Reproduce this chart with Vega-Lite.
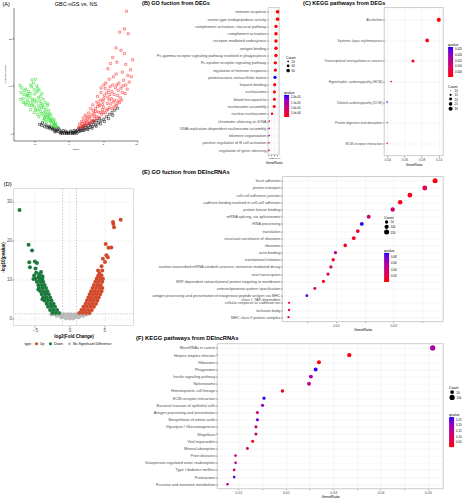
{
"$schema":"https://vega.github.io/schema/vega-lite/v6.json",
"background":"white",
"padding":{"left":0.5,"top":0.5,"right":0,"bottom":0},
"spacing":-3.4,
"resolve":{"scale":{"color":"independent","size":"independent"},"legend":{"color":"independent","size":"independent"}},
"config":{
 "font":"Liberation Sans",
 "view":{"stroke":null},
 "title":{"color":"black","fontWeight":"bold"},
 "axis":{"labelColor":"#4d4d4d","tickColor":"#333333","tickSize":1.5,"tickWidth":0.5,"domain":false,"gridColor":"#ebebeb","gridWidth":0.5,"labelFontSize":3.8,"titleFontSize":4,"titleFontWeight":"normal","titleColor":"black","labelPadding":0.8,"titlePadding":1,"labelOverlap":false},
 "legend":{"titleFontSize":3.5,"labelFontSize":2.8,"titleFontWeight":"normal","titlePadding":1,"rowPadding":0.3,"labelOffset":1.5,"titleColor":"black","labelColor":"black","gradientStrokeWidth":0,"padding":0}
},
"hconcat":[
{"bounds":"flush","spacing":48,
 "resolve":{"scale":{"color":"independent","size":"independent"},"legend":{"color":"independent","size":"independent"}},
 "vconcat":[
 {
  "title":{"text":"(A)","anchor":"start","frame":"group","dx":-11,"fontSize":5.5,"fontWeight":"normal","offset":-6},
  "width":124,"height":133,
  "resolve":{"axis":{"x":"independent"}},
  "data":{"values":[
{"x":-1.2,"y":0.05,"g":"n"},{"x":-0.9,"y":0,"g":"n"},{"x":-0.6,"y":0.02,"g":"n"},{"x":-0.3,"y":0,"g":"n"},{"x":0,"y":0,"g":"n"},{"x":0.3,"y":0.02,"g":"n"},{"x":0.6,"y":0,"g":"n"},{"x":0.9,"y":0.03,"g":"n"},{"x":1.2,"y":0.05,"g":"n"},
{"x":-1.0,"y":0.3,"g":"n"},{"x":-0.5,"y":0.25,"g":"n"},{"x":0,"y":0.2,"g":"n"},{"x":0.5,"y":0.25,"g":"n"},{"x":1.0,"y":0.3,"g":"n"},
{"x":-1.5,"y":0.4,"g":"n"},{"x":-1.9,"y":0.6,"g":"n"},{"x":-2.3,"y":0.8,"g":"n"},{"x":-2.7,"y":1.0,"g":"n"},{"x":-3.1,"y":1.2,"g":"n"},{"x":-3.5,"y":1.4,"g":"n"},{"x":-3.9,"y":1.7,"g":"n"},{"x":-4.2,"y":1.9,"g":"n"},
{"x":-1.3,"y":0.7,"g":"n"},{"x":-1.7,"y":0.9,"g":"n"},{"x":-2.1,"y":1.1,"g":"n"},{"x":-2.5,"y":1.3,"g":"n"},{"x":-2.9,"y":1.5,"g":"n"},{"x":-1.5,"y":1.1,"g":"n"},{"x":-0.8,"y":0.6,"g":"n"},
{"x":1.5,"y":0.4,"g":"n"},{"x":1.9,"y":0.6,"g":"n"},{"x":2.3,"y":0.8,"g":"n"},{"x":2.7,"y":1.0,"g":"n"},{"x":3.1,"y":1.25,"g":"n"},{"x":3.5,"y":1.5,"g":"n"},{"x":3.9,"y":1.8,"g":"n"},{"x":4.3,"y":2.2,"g":"n"},{"x":4.7,"y":2.6,"g":"n"},{"x":5.1,"y":3.0,"g":"n"},{"x":5.5,"y":3.5,"g":"n"},{"x":5.9,"y":4.0,"g":"n"},{"x":6.3,"y":4.4,"g":"n"},{"x":6.7,"y":4.9,"g":"n"},{"x":7.1,"y":5.3,"g":"n"},
{"x":1.3,"y":0.7,"g":"n"},{"x":1.7,"y":0.9,"g":"n"},{"x":2.1,"y":1.1,"g":"n"},{"x":2.5,"y":1.3,"g":"n"},{"x":2.9,"y":1.6,"g":"n"},{"x":3.3,"y":1.9,"g":"n"},{"x":3.7,"y":2.3,"g":"n"},{"x":4.1,"y":2.7,"g":"n"},{"x":4.5,"y":3.1,"g":"n"},{"x":0.8,"y":0.6,"g":"n"},{"x":1.5,"y":1.1,"g":"n"},{"x":2.0,"y":1.4,"g":"n"},
{"x":-3.8,"y":2.2,"g":"n"},{"x":-3.3,"y":1.8,"g":"n"},{"x":-2.8,"y":1.3,"g":"n"},{"x":-2.3,"y":1.0,"g":"n"},{"x":-1.8,"y":0.5,"g":"n"},{"x":-1.1,"y":0.15,"g":"n"},{"x":-0.2,"y":0.1,"g":"n"},{"x":0.7,"y":0.15,"g":"n"},{"x":1.7,"y":0.5,"g":"n"},{"x":2.2,"y":0.6,"g":"n"},{"x":2.8,"y":0.8,"g":"n"},{"x":3.4,"y":1.1,"g":"n"},{"x":4.0,"y":1.5,"g":"n"},{"x":4.6,"y":2.0,"g":"n"},{"x":5.2,"y":2.5,"g":"n"},{"x":5.8,"y":3.1,"g":"n"},{"x":6.4,"y":3.8,"g":"n"},{"x":1.1,"y":0.5,"g":"n"},{"x":-2.0,"y":0.3,"g":"n"},{"x":2.4,"y":1.7,"g":"n"},{"x":3.0,"y":2.0,"g":"n"},{"x":3.6,"y":2.6,"g":"n"},{"x":-0.4,"y":0.45,"g":"n"},{"x":0.3,"y":0.5,"g":"n"},
{"x":8.4,"y":25.7,"g":"u"},{"x":7.4,"y":21.3,"g":"u"},{"x":8.1,"y":22.0,"g":"u"},{"x":8.65,"y":21.0,"g":"u"},{"x":6.9,"y":18.0,"g":"u"},{"x":7.6,"y":17.5,"g":"u"},{"x":8.1,"y":16.8,"g":"u"},{"x":9.0,"y":13.4,"g":"u"},{"x":5.7,"y":13.6,"g":"u"},{"x":6.1,"y":14.7,"g":"u"},{"x":7.8,"y":12.9,"g":"u"},{"x":7.0,"y":15.0,"g":"u"},{"x":6.4,"y":16.0,"g":"u"},{"x":8.3,"y":14.5,"g":"u"},{"x":9.3,"y":15.5,"g":"u"},
{"x":1.5,"y":1.3,"g":"u"},{"x":1.6,"y":2.0,"g":"u"},{"x":1.8,"y":1.6,"g":"u"},{"x":1.9,"y":2.5,"g":"u"},{"x":2.2,"y":1.6,"g":"u"},{"x":2.3,"y":2.4,"g":"u"},{"x":2.1,"y":3.2,"g":"u"},{"x":2.4,"y":3.8,"g":"u"},{"x":2.6,"y":2.0,"g":"u"},{"x":2.7,"y":3.0,"g":"u"},{"x":3.0,"y":2.1,"g":"u"},{"x":3.1,"y":3.2,"g":"u"},{"x":2.9,"y":4.3,"g":"u"},{"x":3.2,"y":5.2,"g":"u"},{"x":3.3,"y":2.6,"g":"u"},{"x":3.4,"y":3.9,"g":"u"},{"x":3.5,"y":6.0,"g":"u"},{"x":3.6,"y":4.8,"g":"u"},{"x":3.8,"y":2.8,"g":"u"},{"x":4.0,"y":3.6,"g":"u"},{"x":3.9,"y":5.2,"g":"u"},{"x":4.1,"y":6.6,"g":"u"},{"x":4.2,"y":7.8,"g":"u"},{"x":4.3,"y":4.5,"g":"u"},{"x":4.4,"y":3.4,"g":"u"},{"x":4.5,"y":5.8,"g":"u"},{"x":4.6,"y":7.0,"g":"u"},{"x":4.7,"y":8.6,"g":"u"},{"x":4.8,"y":4.0,"g":"u"},{"x":5.0,"y":4.4,"g":"u"},{"x":5.1,"y":5.5,"g":"u"},{"x":5.0,"y":6.8,"g":"u"},{"x":5.2,"y":8.0,"g":"u"},{"x":5.3,"y":9.5,"g":"u"},{"x":5.4,"y":10.6,"g":"u"},{"x":5.5,"y":4.9,"g":"u"},{"x":5.6,"y":6.3,"g":"u"},{"x":5.7,"y":7.6,"g":"u"},{"x":5.8,"y":9.0,"g":"u"},{"x":5.9,"y":11.4,"g":"u"},{"x":5.9,"y":5.4,"g":"u"},{"x":6.1,"y":6.2,"g":"u"},{"x":6.2,"y":7.3,"g":"u"},{"x":6.3,"y":8.8,"g":"u"},{"x":6.4,"y":10.2,"g":"u"},{"x":6.5,"y":11.9,"g":"u"},{"x":6.6,"y":5.6,"g":"u"},{"x":6.7,"y":7.0,"g":"u"},{"x":6.8,"y":9.6,"g":"u"},{"x":6.9,"y":12.5,"g":"u"},{"x":7.0,"y":6.2,"g":"u"},{"x":7.1,"y":8.0,"g":"u"},{"x":7.3,"y":10.6,"g":"u"},{"x":7.5,"y":7.5,"g":"u"},{"x":7.6,"y":9.5,"g":"u"},{"x":7.8,"y":8.6,"g":"u"},{"x":8.0,"y":11.2,"g":"u"},{"x":8.3,"y":10.2,"g":"u"},{"x":8.6,"y":12.2,"g":"u"},{"x":2.0,"y":2.1,"g":"u"},{"x":2.5,"y":2.7,"g":"u"},{"x":3.7,"y":3.5,"g":"u"},{"x":4.9,"y":5.0,"g":"u"},{"x":6.0,"y":8.2,"g":"u"},{"x":7.2,"y":6.8,"g":"u"},
{"x":1.7,"y":1.2,"g":"u"},{"x":2.1,"y":1.4,"g":"u"},{"x":2.4,"y":1.9,"g":"u"},{"x":2.8,"y":2.4,"g":"u"},{"x":3.2,"y":2.3,"g":"u"},{"x":3.5,"y":2.6,"g":"u"},{"x":3.7,"y":4.2,"g":"u"},{"x":4.1,"y":3.1,"g":"u"},{"x":4.2,"y":5.7,"g":"u"},{"x":4.6,"y":4.4,"g":"u"},{"x":4.4,"y":6.2,"g":"u"},{"x":4.9,"y":6.1,"g":"u"},{"x":5.1,"y":7.3,"g":"u"},{"x":5.3,"y":4.3,"g":"u"},{"x":5.5,"y":8.5,"g":"u"},{"x":5.7,"y":5.0,"g":"u"},{"x":5.9,"y":7.0,"g":"u"},{"x":6.0,"y":9.8,"g":"u"},{"x":6.3,"y":5.2,"g":"u"},{"x":6.5,"y":6.6,"g":"u"},{"x":6.6,"y":8.2,"g":"u"},{"x":6.9,"y":5.8,"g":"u"},{"x":7.0,"y":10.2,"g":"u"},{"x":7.2,"y":9.0,"g":"u"},{"x":7.4,"y":6.5,"g":"u"},{"x":7.7,"y":7.0,"g":"u"},{"x":7.9,"y":10.0,"g":"u"},{"x":8.2,"y":8.4,"g":"u"},{"x":8.5,"y":9.3,"g":"u"},{"x":8.8,"y":10.8,"g":"u"},{"x":9.1,"y":11.9,"g":"u"},{"x":3.9,"y":4.6,"g":"u"},{"x":3.0,"y":3.6,"g":"u"},{"x":2.6,"y":3.5,"g":"u"},{"x":4.7,"y":9.6,"g":"u"},{"x":5.1,"y":10.2,"g":"u"},
{"x":-7.05,"y":10.1,"g":"d"},{"x":-5.3,"y":11.3,"g":"d"},{"x":-4.8,"y":11.4,"g":"d"},{"x":-5.1,"y":10.6,"g":"d"},{"x":-6.8,"y":9.6,"g":"d"},{"x":-6.2,"y":9.3,"g":"d"},{"x":-5.8,"y":8.8,"g":"d"},{"x":-6.5,"y":8.2,"g":"d"},{"x":-5.4,"y":9.8,"g":"d"},{"x":-4.6,"y":10.0,"g":"d"},{"x":-4.3,"y":9.1,"g":"d"},{"x":-3.9,"y":8.4,"g":"d"},{"x":-4.9,"y":8.3,"g":"d"},{"x":-5.6,"y":7.6,"g":"d"},{"x":-6.0,"y":7.0,"g":"d"},{"x":-4.4,"y":7.5,"g":"d"},{"x":-3.7,"y":7.2,"g":"d"},{"x":-3.4,"y":6.5,"g":"d"},{"x":-4.0,"y":6.3,"g":"d"},{"x":-4.7,"y":6.6,"g":"d"},{"x":-5.2,"y":6.2,"g":"d"},{"x":-5.7,"y":5.9,"g":"d"},{"x":-3.1,"y":5.8,"g":"d"},{"x":-3.6,"y":5.4,"g":"d"},{"x":-4.2,"y":5.2,"g":"d"},{"x":-4.8,"y":5.0,"g":"d"},{"x":-2.9,"y":4.8,"g":"d"},{"x":-3.3,"y":4.3,"g":"d"},{"x":-3.9,"y":4.1,"g":"d"},{"x":-4.5,"y":4.0,"g":"d"},{"x":-2.6,"y":3.9,"g":"d"},{"x":-3.0,"y":3.5,"g":"d"},{"x":-3.5,"y":3.2,"g":"d"},{"x":-2.4,"y":3.1,"g":"d"},{"x":-2.7,"y":2.7,"g":"d"},{"x":-3.2,"y":2.4,"g":"d"},{"x":-2.2,"y":2.4,"g":"d"},{"x":-2.5,"y":2.0,"g":"d"},{"x":-2.0,"y":1.8,"g":"d"},{"x":-2.3,"y":1.5,"g":"d"},{"x":-1.8,"y":1.4,"g":"d"},{"x":-1.6,"y":1.3,"g":"d"},{"x":-3.7,"y":2.7,"g":"d"},{"x":-4.3,"y":3.5,"g":"d"},{"x":-5.0,"y":4.4,"g":"d"},{"x":-5.5,"y":5.0,"g":"d"},{"x":-6.3,"y":6.4,"g":"d"},{"x":-3.3,"y":5.0,"g":"d"},{"x":-2.8,"y":4.2,"g":"d"},{"x":-4.1,"y":7.8,"g":"d"},{"x":-5.2,"y":7.2,"g":"d"},{"x":-5.9,"y":8.0,"g":"d"},{"x":-6.6,"y":7.3,"g":"d"},{"x":-6.9,"y":8.6,"g":"d"},{"x":-2.1,"y":2.9,"g":"d"},{"x":-1.9,"y":2.2,"g":"d"},{"x":-3.0,"y":6.2,"g":"d"},{"x":-4.6,"y":8.8,"g":"d"},{"x":-5.5,"y":10.2,"g":"d"},
{"x":-6.0,"y":8.3,"g":"d"},{"x":-5.5,"y":8.4,"g":"d"},{"x":-5.0,"y":9.2,"g":"d"},{"x":-4.5,"y":9.5,"g":"d"},{"x":-6.4,"y":9.0,"g":"d"},{"x":-6.1,"y":7.8,"g":"d"},{"x":-5.3,"y":6.8,"g":"d"},{"x":-4.9,"y":7.0,"g":"d"},{"x":-4.2,"y":6.8,"g":"d"},{"x":-3.8,"y":6.0,"g":"d"},{"x":-4.4,"y":5.8,"g":"d"},{"x":-5.0,"y":5.6,"g":"d"},{"x":-5.4,"y":5.9,"g":"d"},{"x":-4.6,"y":4.9,"g":"d"},{"x":-4.1,"y":4.6,"g":"d"},{"x":-3.6,"y":4.5,"g":"d"},{"x":-3.1,"y":4.0,"g":"d"},{"x":-3.6,"y":3.7,"g":"d"},{"x":-3.4,"y":2.9,"g":"d"},{"x":-2.9,"y":3.0,"g":"d"},{"x":-2.6,"y":2.5,"g":"d"},{"x":-2.1,"y":2.0,"g":"d"},{"x":-2.8,"y":3.3,"g":"d"},{"x":-2.4,"y":2.7,"g":"d"},{"x":-1.9,"y":1.7,"g":"d"},{"x":-6.6,"y":6.5,"g":"d"},{"x":-7.0,"y":7.2,"g":"d"},{"x":-6.2,"y":6.0,"g":"d"},{"x":-5.8,"y":6.5,"g":"d"},{"x":-3.9,"y":5.5,"g":"d"},{"x":-3.3,"y":3.6,"g":"d"}
  ]},
  "layer":[
   {"mark":{"type":"point","shape":"square","filled":false,"size":4.5,"strokeWidth":0.5,"opacity":1},
    "encoding":{
     "x":{"field":"x","type":"quantitative","scale":{"domain":[-8,10],"nice":false},"axis":{"values":[-5,0,5,10],"title":"logFC","grid":false,"domain":true,"domainColor":"black","domainWidth":0.5,"labelFontSize":2.5,"titleFontSize":2.5,"labelColor":"black","tickColor":"black","titlePadding":2}},
     "y":{"field":"y","type":"quantitative","scale":{"domain":[-1.5,26.5],"nice":false},"axis":{"values":[0,10,20],"title":"-1*log10(P.Value)","grid":false,"domain":true,"domainColor":"black","domainWidth":0.5,"labelFontSize":2.5,"titleFontSize":2.5,"labelColor":"black","tickColor":"black","titlePadding":2}},
     "color":{"field":"g","type":"nominal","scale":{"domain":["d","n","u"],"range":["#22dd22","#000000","#ff2222"]},"legend":null}
    }},
   {"mark":{"type":"point","opacity":0},
    "encoding":{
     "x":{"field":"x","type":"quantitative","axis":{"orient":"top","title":"GBC-nGS vs. NS","labels":false,"ticks":false,"domain":false,"grid":false,"titleFontSize":5.5,"titlePadding":1,"titleColor":"black","titleFontWeight":"normal"}},
     "y":{"field":"y","type":"quantitative"}
    }}
  ]
 },
 {
  "title":{"text":"(D)","anchor":"start","frame":"group","dx":-10,"fontSize":6,"fontWeight":"normal","offset":1},
  "width":120,"height":137,
  "view":{"stroke":"#bdbdbd","strokeWidth":0.5},
  "layer":[
   {"data":{"values":[
{"x":-2.3,"y":1.2,"t":"NS"},{"x":-1.8,"y":1.2,"t":"NS"},{"x":-1.3,"y":1.2,"t":"NS"},{"x":-0.8,"y":1.2,"t":"NS"},{"x":-0.3,"y":1.2,"t":"NS"},{"x":0.2,"y":1.2,"t":"NS"},{"x":0.7,"y":1.2,"t":"NS"},{"x":1.2,"y":1.2,"t":"NS"},{"x":1.7,"y":1.2,"t":"NS"},{"x":2.2,"y":1.2,"t":"NS"},
{"x":-1.9,"y":0.8,"t":"NS"},{"x":-1.4,"y":0.8,"t":"NS"},{"x":-0.9,"y":0.8,"t":"NS"},{"x":-0.4,"y":0.8,"t":"NS"},{"x":0.1,"y":0.8,"t":"NS"},{"x":0.6,"y":0.8,"t":"NS"},{"x":1.1,"y":0.8,"t":"NS"},{"x":1.6,"y":0.8,"t":"NS"},{"x":2.0,"y":0.8,"t":"NS"},
{"x":-1.2,"y":0.4,"t":"NS"},{"x":-0.7,"y":0.4,"t":"NS"},{"x":-0.2,"y":0.4,"t":"NS"},{"x":0.3,"y":0.4,"t":"NS"},{"x":0.8,"y":0.4,"t":"NS"},{"x":1.3,"y":0.4,"t":"NS"},
{"x":-0.5,"y":0.1,"t":"NS"},{"x":0,"y":0.1,"t":"NS"},{"x":0.5,"y":0.1,"t":"NS"},{"x":-2.6,"y":1.1,"t":"NS"},{"x":2.5,"y":1.1,"t":"NS"},{"x":-1.6,"y":1.0,"t":"NS"},{"x":1.4,"y":0.95,"t":"NS"},
{"x":-7.2,"y":27.9,"t":"Down"},{"x":-5.9,"y":19.0,"t":"Down"},{"x":-5.4,"y":17.5,"t":"Down"},{"x":-5.8,"y":14.5,"t":"Down"},{"x":-5.0,"y":14.7,"t":"Down"},{"x":-4.7,"y":14.3,"t":"Down"},{"x":-5.7,"y":13.2,"t":"Down"},{"x":-4.9,"y":12.9,"t":"Down"},{"x":-4.1,"y":12.0,"t":"Down"},{"x":-5.1,"y":11.1,"t":"Down"},{"x":-4.5,"y":10.6,"t":"Down"},{"x":-4.3,"y":11.5,"t":"Down"},{"x":-4.4,"y":11.0,"t":"Down"},{"x":-4.8,"y":11.8,"t":"Down"},{"x":-3.9,"y":10.9,"t":"Down"},{"x":-5.2,"y":10.2,"t":"Down"},
{"x":-2.5,"y":1.5,"t":"Down"},{"x":-2.0,"y":1.5,"t":"Down"},{"x":-1.5,"y":1.5,"t":"Down"},
{"x":-2.8,"y":2.3,"t":"Down"},{"x":-2.3,"y":2.3,"t":"Down"},{"x":-1.8,"y":2.3,"t":"Down"},
{"x":-3.1,"y":3.1,"t":"Down"},{"x":-2.6,"y":3.1,"t":"Down"},{"x":-2.1,"y":3.1,"t":"Down"},
{"x":-3.3,"y":3.9,"t":"Down"},{"x":-2.8,"y":3.9,"t":"Down"},{"x":-2.3,"y":3.9,"t":"Down"},
{"x":-3.6,"y":4.7,"t":"Down"},{"x":-3.1,"y":4.7,"t":"Down"},{"x":-2.6,"y":4.7,"t":"Down"},
{"x":-3.8,"y":5.5,"t":"Down"},{"x":-3.3,"y":5.5,"t":"Down"},{"x":-2.8,"y":5.5,"t":"Down"},
{"x":-4.0,"y":6.3,"t":"Down"},{"x":-3.5,"y":6.3,"t":"Down"},{"x":-3.0,"y":6.3,"t":"Down"},
{"x":-4.2,"y":7.1,"t":"Down"},{"x":-3.7,"y":7.1,"t":"Down"},{"x":-3.2,"y":7.1,"t":"Down"},
{"x":-4.4,"y":7.9,"t":"Down"},{"x":-3.9,"y":7.9,"t":"Down"},{"x":-3.4,"y":7.9,"t":"Down"},
{"x":-4.5,"y":8.7,"t":"Down"},{"x":-4.0,"y":8.7,"t":"Down"},{"x":-3.6,"y":8.7,"t":"Down"},
{"x":-4.7,"y":9.5,"t":"Down"},{"x":-4.2,"y":9.5,"t":"Down"},{"x":-3.8,"y":9.5,"t":"Down"},
{"x":-4.9,"y":10.3,"t":"Down"},{"x":-4.3,"y":10.3,"t":"Down"},{"x":-3.9,"y":10.3,"t":"Down"},
{"x":-4.2,"y":9.9,"t":"Down"},{"x":-3.4,"y":6.6,"t":"Down"},{"x":-4.5,"y":7.5,"t":"Down"},{"x":-2.4,"y":3.6,"t":"Down"},{"x":-3.9,"y":5.0,"t":"Down"},
{"x":6.25,"y":24.8,"t":"Up"},{"x":6.3,"y":24.3,"t":"Up"},{"x":6.4,"y":23.5,"t":"Up"},{"x":7.35,"y":25.4,"t":"Up"},{"x":5.2,"y":19.2,"t":"Up"},{"x":5.6,"y":18.2,"t":"Up"},{"x":6.0,"y":18.3,"t":"Up"},{"x":4.8,"y":15.4,"t":"Up"},{"x":5.1,"y":14.6,"t":"Up"},{"x":5.3,"y":16.3,"t":"Up"},{"x":4.7,"y":12.4,"t":"Up"},{"x":4.1,"y":12.4,"t":"Up"},{"x":4.3,"y":11.6,"t":"Up"},{"x":5.5,"y":15.8,"t":"Up"},{"x":4.6,"y":13.5,"t":"Up"},
{"x":1.4,"y":1.5,"t":"Up"},{"x":1.9,"y":1.5,"t":"Up"},{"x":2.4,"y":1.5,"t":"Up"},{"x":2.9,"y":1.5,"t":"Up"},
{"x":1.7,"y":2.3,"t":"Up"},{"x":2.2,"y":2.3,"t":"Up"},{"x":2.7,"y":2.3,"t":"Up"},{"x":3.2,"y":2.3,"t":"Up"},
{"x":2.0,"y":3.1,"t":"Up"},{"x":2.5,"y":3.1,"t":"Up"},{"x":3.0,"y":3.1,"t":"Up"},{"x":3.5,"y":3.1,"t":"Up"},
{"x":2.3,"y":3.9,"t":"Up"},{"x":2.8,"y":3.9,"t":"Up"},{"x":3.3,"y":3.9,"t":"Up"},{"x":3.8,"y":3.9,"t":"Up"},
{"x":2.5,"y":4.7,"t":"Up"},{"x":3.0,"y":4.7,"t":"Up"},{"x":3.5,"y":4.7,"t":"Up"},{"x":4.0,"y":4.7,"t":"Up"},
{"x":2.7,"y":5.5,"t":"Up"},{"x":3.2,"y":5.5,"t":"Up"},{"x":3.7,"y":5.5,"t":"Up"},{"x":4.2,"y":5.5,"t":"Up"},
{"x":2.9,"y":6.3,"t":"Up"},{"x":3.4,"y":6.3,"t":"Up"},{"x":3.9,"y":6.3,"t":"Up"},{"x":4.4,"y":6.3,"t":"Up"},
{"x":3.1,"y":7.1,"t":"Up"},{"x":3.6,"y":7.1,"t":"Up"},{"x":4.1,"y":7.1,"t":"Up"},{"x":4.6,"y":7.1,"t":"Up"},
{"x":3.3,"y":7.9,"t":"Up"},{"x":3.8,"y":7.9,"t":"Up"},{"x":4.3,"y":7.9,"t":"Up"},{"x":4.7,"y":7.9,"t":"Up"},
{"x":3.5,"y":8.7,"t":"Up"},{"x":4.0,"y":8.7,"t":"Up"},{"x":4.5,"y":8.7,"t":"Up"},
{"x":3.7,"y":9.5,"t":"Up"},{"x":4.2,"y":9.5,"t":"Up"},{"x":4.7,"y":9.5,"t":"Up"},
{"x":3.9,"y":10.3,"t":"Up"},{"x":4.4,"y":10.3,"t":"Up"},{"x":4.8,"y":10.3,"t":"Up"},
{"x":4.1,"y":11.0,"t":"Up"},{"x":4.6,"y":11.1,"t":"Up"}
   ]},
   "mark":{"type":"circle","size":16,"opacity":1},
   "encoding":{
    "x":{"field":"x","type":"quantitative","scale":{"domain":[-8.07,9.2],"nice":false},"axis":{"values":[-5,0,5],"title":"log2(Fold Change)","grid":true,"labelFontSize":4.5,"titleFontSize":4.5,"titleFontWeight":"bold","titlePadding":1.5}},
    "y":{"field":"y","type":"quantitative","scale":{"domain":[-1.7,33.4],"nice":false},"axis":{"values":[0,10,20,30],"title":"-log10(pvalue)","grid":true,"labelFontSize":4.5,"titleFontSize":4.5,"titleFontWeight":"bold","titlePadding":0.5,"labelPadding":0.5}},
    "color":{"field":"t","type":"nominal","scale":{"domain":["Up","Down","NS"],"range":["#d2492a","#1b7a3e","#bdbdbd"]},
      "legend":{"orient":"none","legendX":11,"legendY":153,"direction":"horizontal","title":"type","titleOrient":"left","titleFontSize":3.5,"labelFontSize":3.5,"symbolSize":10,"symbolStrokeWidth":0,"columnPadding":4,"titlePadding":3,"labelExpr":"datum.label=='NS' ? 'No Significant Difference' : datum.label"}}
   }},
   {"data":{"values":[{"v":-1},{"v":1}]},"mark":{"type":"rule","strokeDash":[1.5,1.5],"color":"#9a9a9a","strokeWidth":0.5},"encoding":{"x":{"field":"v","type":"quantitative"}}},
   {"data":{"values":[{"h":1.3}]},"mark":{"type":"rule","strokeDash":[1.5,1.5],"color":"#9a9a9a","strokeWidth":0.5},"encoding":{"y":{"field":"h","type":"quantitative"}}}
  ]
 }
]},
{"spacing":1.0,
 "resolve":{"scale":{"color":"independent","size":"independent"},"legend":{"color":"independent","size":"independent"}},
 "vconcat":[
 {"bounds":"flush","spacing":0,
  "resolve":{"scale":{"color":"independent","size":"independent"},"legend":{"color":"independent","size":"independent"}},
  "hconcat":[
  {"width":51,"height":1,"data":{"values":[]},"mark":"point","encoding":{}},
  {
   "title":{"text":"(B) GO fuction from DEGs","anchor":"start","frame":"group","dx":-126,"fontSize":5.5,"offset":1},
   "width":11,"height":147,
   "view":{"stroke":"#aaaaaa","strokeWidth":0.6},
   "data":{"values":[
{"term":"immune response","GeneRatio":0.080,"Count":62,"qvalue":2e-7},
{"term":"serine-type endopeptidase activity","GeneRatio":0.080,"Count":61,"qvalue":2e-7},
{"term":"complement activation, classical pathway","GeneRatio":0.070,"Count":55,"qvalue":1e-7},
{"term":"complement activation","GeneRatio":0.070,"Count":55,"qvalue":1e-7},
{"term":"receptor-mediated endocytosis","GeneRatio":0.070,"Count":55,"qvalue":2e-7},
{"term":"antigen binding","GeneRatio":0.070,"Count":55,"qvalue":2e-7},
{"term":"Fc-gamma receptor signaling pathway involved in phagocytosis","GeneRatio":0.070,"Count":54,"qvalue":3e-7},
{"term":"Fc-epsilon receptor signaling pathway","GeneRatio":0.066,"Count":52,"qvalue":3e-7},
{"term":"regulation of immune response","GeneRatio":0.066,"Count":52,"qvalue":5e-7},
{"term":"proteinaceous extracellular matrix","GeneRatio":0.064,"Count":50,"qvalue":2.2e-5},
{"term":"heparin binding","GeneRatio":0.062,"Count":48,"qvalue":6e-7},
{"term":"nucleosome","GeneRatio":0.060,"Count":47,"qvalue":6e-7},
{"term":"blood microparticle","GeneRatio":0.060,"Count":47,"qvalue":8e-7},
{"term":"nucleosome assembly","GeneRatio":0.059,"Count":46,"qvalue":1e-6},
{"term":"nuclear nucleosome","GeneRatio":0.045,"Count":32,"qvalue":1.2e-6},
{"term":"chromatin silencing at rDNA","GeneRatio":0.028,"Count":20,"qvalue":3.5e-6},
{"term":"DNA replication-dependent nucleosome assembly","GeneRatio":0.027,"Count":20,"qvalue":1.3e-5},
{"term":"telomere organization","GeneRatio":0.027,"Count":20,"qvalue":1.4e-5},
{"term":"positive regulation of B cell activation","GeneRatio":0.026,"Count":19,"qvalue":2.5e-6},
{"term":"regulation of gene silencing","GeneRatio":0.026,"Count":19,"qvalue":4.5e-6}
   ]},
   "mark":{"type":"circle","opacity":1},
   "encoding":{
    "y":{"field":"term","type":"nominal","sort":null,"scale":{"padding":0.6},"axis":{"title":null,"grid":true,"labelFontSize":3.9}},
    "x":{"field":"GeneRatio","type":"quantitative","scale":{"domain":[0.02,0.09],"nice":false},"axis":{"values":[0.02,0.04,0.06,0.08],"format":".2f","grid":true,"labelFontSize":2.3,"title":"GeneRatio","titleFontSize":3.5}},
    "size":{"field":"Count","type":"quantitative","scale":{"domain":[15,65],"range":[1.5,14]},"legend":{"orient":"none","legendX":18,"legendY":48,"values":[20,40,60],"title":"Count","symbolFillColor":"black","symbolStrokeWidth":0}},
    "color":{"field":"qvalue","type":"quantitative","scale":{"domain":[1e-7,2.2e-5],"range":["#ff0000","#0000ff"],"interpolate":"lab"},"legend":{"orient":"none","legendX":16,"legendY":83,"title":"qvalue","gradientLength":22,"gradientThickness":5,"values":[5e-6,1e-5,1.5e-5,2e-5],"labelExpr":"replace(format(datum.value,'.1e'),'e-','e-0')"}}
   }
  },
  {"width":105,"height":1,"data":{"values":[]},"mark":"point","encoding":{}},
  {
   "title":{"text":"(C) KEGG pathways from DEGs","anchor":"start","frame":"group","dx":-81,"fontSize":5.5,"offset":1},
   "width":59,"height":148,
   "view":{"stroke":"#aaaaaa","strokeWidth":0.6},
   "data":{"values":[
{"term":"Alcoholism","GeneRatio":0.100,"Count":30,"qvalue":0.0005},
{"term":"Systemic lupus erythematosus","GeneRatio":0.0865,"Count":26,"qvalue":0.0015},
{"term":"Transcriptional misregulation in cancers","GeneRatio":0.070,"Count":21,"qvalue":0.003},
{"term":"Hypertrophic cardiomyopathy (HCM)","GeneRatio":0.0447,"Count":13,"qvalue":0.004},
{"term":"Dilated cardiomyopathy (DCM)","GeneRatio":0.040,"Count":12,"qvalue":0.0265},
{"term":"Protein digestion and absorption","GeneRatio":0.040,"Count":12,"qvalue":0.020},
{"term":"ECM-receptor interaction","GeneRatio":0.040,"Count":12,"qvalue":0.009}
   ]},
   "mark":{"type":"circle","opacity":1},
   "encoding":{
    "y":{"field":"term","type":"nominal","sort":null,"scale":{"padding":0.6},"axis":{"title":null,"grid":true,"labelFontSize":3.3}},
    "x":{"field":"GeneRatio","type":"quantitative","scale":{"domain":[0.0365,0.105],"nice":false},"axis":{"values":[0.04,0.06,0.08,0.10],"format":".2f","grid":true,"labelFontSize":3.3,"title":"GeneRatio","titleFontSize":3.5}},
    "size":{"field":"Count","type":"quantitative","scale":{"domain":[10,30],"range":[0.5,17]},"legend":{"orient":"none","legendX":64,"legendY":77,"values":[10,15,20,25,30],"title":"Count","symbolFillColor":"black","symbolStrokeWidth":0}},
    "color":{"field":"qvalue","type":"quantitative","scale":{"domain":[0.0003,0.0265],"range":["#ff0000","#0000ff"],"interpolate":"lab"},"legend":{"orient":"none","legendX":64,"legendY":35,"title":"qvalue","gradientLength":30,"gradientThickness":5,"values":[0.005,0.01,0.015,0.02,0.025],"format":".3f"}}
   }
  }
 ]},
 {"spacing":1.1,
  "resolve":{"scale":{"color":"independent","size":"independent"},"legend":{"color":"independent","size":"independent"}},
  "vconcat":[
  {"bounds":"flush","spacing":0,
   "hconcat":[
   {"width":65,"height":1,"data":{"values":[]},"mark":"point","encoding":{}},
   {
   "title":{"text":"(E) GO fuction from DElncRNAs","anchor":"start","frame":"group","dx":-140,"fontSize":5.8,"offset":2},
   "width":161,"height":145,
   "view":{"stroke":"#aaaaaa","strokeWidth":0.6},
   "data":{"values":[
{"term":"focal adhesion","GeneRatio":0.0273,"Count":150,"qvalue":0.002},
{"term":"protein transport","GeneRatio":0.0255,"Count":140,"qvalue":0.02},
{"term":"cell-cell adherens junction","GeneRatio":0.0229,"Count":126,"qvalue":0.005},
{"term":"cadherin binding involved in cell-cell adhesion","GeneRatio":0.0212,"Count":117,"qvalue":0.006},
{"term":"protein kinase binding","GeneRatio":0.0199,"Count":109,"qvalue":0.035},
{"term":"mRNA splicing, via spliceosome","GeneRatio":0.0157,"Count":86,"qvalue":0.035},
{"term":"rRNA processing","GeneRatio":0.0145,"Count":80,"qvalue":0.088},
{"term":"translation","GeneRatio":0.0138,"Count":76,"qvalue":0.012},
{"term":"structural constituent of ribosome","GeneRatio":0.0131,"Count":72,"qvalue":0.008},
{"term":"ribosome","GeneRatio":0.0116,"Count":64,"qvalue":0.004},
{"term":"actin binding","GeneRatio":0.0099,"Count":54,"qvalue":0.055},
{"term":"translational initiation","GeneRatio":0.0095,"Count":52,"qvalue":0.012},
{"term":"nuclear-transcribed mRNA catabolic process, nonsense-mediated decay","GeneRatio":0.0091,"Count":50,"qvalue":0.03},
{"term":"viral transcription","GeneRatio":0.0086,"Count":47,"qvalue":0.025},
{"term":"SRP-dependent cotranslational protein targeting to membrane","GeneRatio":0.0078,"Count":43,"qvalue":0.01},
{"term":"anterior/posterior pattern specification","GeneRatio":0.0063,"Count":35,"qvalue":0.03},
{"term":"antigen processing and presentation of exogenous peptide antigen via MHC|class I, TAP-dependent","GeneRatio":0.0049,"Count":27,"qvalue":0.085},
{"term":"cellular response to cadmium ion","GeneRatio":0.0018,"Count":10,"qvalue":0.015},
{"term":"inclusion body","GeneRatio":0.0018,"Count":10,"qvalue":0.015},
{"term":"MHC class II protein complex","GeneRatio":0.0017,"Count":9,"qvalue":0.02}
   ]},
   "mark":{"type":"circle","opacity":1},
   "encoding":{
    "y":{"field":"term","type":"nominal","sort":null,"scale":{"padding":0.6},"axis":{"title":null,"grid":true,"labelFontSize":3.8,"labelLineHeight":3.8,"labelExpr":"split(datum.label,'|')"}},
    "x":{"field":"GeneRatio","type":"quantitative","scale":{"domain":[0.00058,0.0287],"nice":false},"axis":{"values":[0.005,0.01,0.015,0.02,0.025],"labelExpr":"(datum.value==0.01||datum.value==0.02) ? format(datum.value,'.2f') : ''","grid":true,"labelFontSize":3.5,"title":"GeneRatio","titleFontSize":3.8,"tickSize":1}},
    "size":{"field":"Count","type":"quantitative","scale":{"domain":[0,150],"range":[4,25]},"legend":{"orient":"none","legendX":167,"legendY":39,"values":[50,100,150],"title":"Count","symbolFillColor":"black","symbolStrokeWidth":0}},
    "color":{"field":"qvalue","type":"quantitative","scale":{"domain":[0.001,0.09],"range":["#ff0000","#0000ff"],"interpolate":"lab"},"legend":{"orient":"none","legendX":167,"legendY":72,"title":"qvalue","gradientLength":29,"gradientThickness":5,"values":[0.02,0.04,0.06,0.08],"format":".2f"}}
   }
  }]},
  {
   "title":{"text":"(F) KEGG pathways from DElncRNAs","anchor":"start","frame":"group","dx":-81,"fontSize":5.8,"offset":3},
   "width":226,"height":145,
   "view":{"stroke":"#aaaaaa","strokeWidth":0.6},
   "data":{"values":[
{"term":"MicroRNAs in cancer","GeneRatio":0.0510,"Count":102,"qvalue":0.17},
{"term":"Herpes simplex infection","GeneRatio":0.0334,"Count":67,"qvalue":0.01},
{"term":"Ribosome","GeneRatio":0.0270,"Count":54,"qvalue":0.005},
{"term":"Phagosome","GeneRatio":0.0263,"Count":53,"qvalue":0.26},
{"term":"Insulin signaling pathway","GeneRatio":0.0253,"Count":51,"qvalue":0.18},
{"term":"Spliceosome","GeneRatio":0.0249,"Count":50,"qvalue":0.13},
{"term":"Hematopoietic cell lineage","GeneRatio":0.0193,"Count":39,"qvalue":0.02},
{"term":"ECM-receptor interaction","GeneRatio":0.0154,"Count":31,"qvalue":0.26},
{"term":"Bacterial invasion of epithelial cells","GeneRatio":0.0151,"Count":30,"qvalue":0.2},
{"term":"Antigen processing and presentation","GeneRatio":0.0140,"Count":28,"qvalue":0.11},
{"term":"Biosynthesis of amino acids","GeneRatio":0.0140,"Count":28,"qvalue":0.24},
{"term":"Glycolysis / Gluconeogenesis","GeneRatio":0.0137,"Count":27,"qvalue":0.12},
{"term":"Shigellosis","GeneRatio":0.0137,"Count":27,"qvalue":0.12},
{"term":"Viral myocarditis","GeneRatio":0.0130,"Count":26,"qvalue":0.03},
{"term":"Mineral absorption","GeneRatio":0.0119,"Count":24,"qvalue":0.08},
{"term":"Prion diseases","GeneRatio":0.0094,"Count":19,"qvalue":0.13},
{"term":"Vasopressin-regulated water reabsorption","GeneRatio":0.0094,"Count":19,"qvalue":0.14},
{"term":"Type I diabetes mellitus","GeneRatio":0.0091,"Count":18,"qvalue":0.11},
{"term":"Proteasome","GeneRatio":0.0091,"Count":18,"qvalue":0.25},
{"term":"Fructose and mannose metabolism","GeneRatio":0.0077,"Count":15,"qvalue":0.12}
   ]},
   "mark":{"type":"circle","opacity":1},
   "encoding":{
    "y":{"field":"term","type":"nominal","sort":null,"scale":{"padding":0.6},"axis":{"title":null,"grid":true,"labelFontSize":3.8}},
    "x":{"field":"GeneRatio","type":"quantitative","scale":{"domain":[0.0055,0.0532],"nice":false},"axis":{"values":[0.01,0.015,0.02,0.025,0.03,0.035,0.04,0.045,0.05],"labelExpr":"indexof([0.01,0.02,0.03,0.04,0.05], datum.value) >= 0 ? format(datum.value,'.2f') : ''","grid":true,"labelFontSize":3.5,"title":"GeneRatio","titleFontSize":3.8,"tickSize":1}},
    "size":{"field":"Count","type":"quantitative","scale":{"domain":[0,105],"range":[3,28]},"legend":{"orient":"none","legendX":232,"legendY":42,"values":[50,100],"title":"Count","symbolFillColor":"black","symbolStrokeWidth":0}},
    "color":{"field":"qvalue","type":"quantitative","scale":{"domain":[0.003,0.27],"range":["#ff0000","#0000ff"],"interpolate":"lab"},"legend":{"orient":"none","legendX":232,"legendY":69,"title":"qvalue","gradientLength":30,"gradientThickness":5,"values":[0.05,0.1,0.15,0.2,0.25],"format":".2f"}}
   }
  }
 ]}
]}
]
}
